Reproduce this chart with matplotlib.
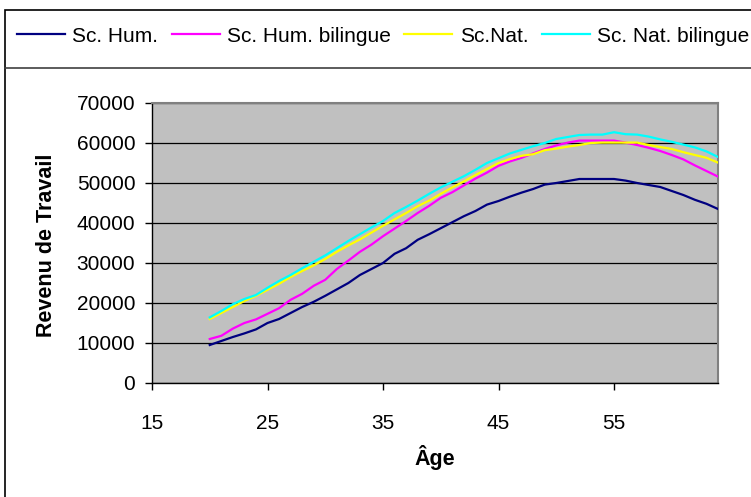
import matplotlib
matplotlib.use("Agg")
import matplotlib.pyplot as plt
from matplotlib.patches import Rectangle
from matplotlib.lines import Line2D

plt.rcParams['font.family'] = ['Liberation Sans', 'DejaVu Sans']

ages = list(range(20, 65))

sc_hum = [9500, 10500, 11500, 12400, 13400, 15000, 16000, 17500, 19000, 20300,
          21800, 23400, 25000, 27000, 28500, 30000, 32300, 33700, 35800, 37200,
          38700, 40200, 41700, 43000, 44600, 45500, 46600, 47600, 48500, 49600,
          50000, 50500, 51000, 51000, 51000, 51000, 50600, 50000, 49500, 49000,
          48000, 47000, 45800, 44800, 43500]

sc_hum_bil = [11000, 11800, 13600, 15000, 15900, 17300, 18700, 20800, 22300, 24300,
              25800, 28500, 30600, 32800, 34600, 36700, 38600, 40500, 42500, 44300,
              46300, 47700, 49400, 51100, 52600, 54300, 55400, 56300, 57400, 58500,
              59400, 60100, 60600, 60600, 60600, 60600, 60100, 59500, 58800, 58000,
              57000, 55900, 54400, 53000, 51600]

sc_nat = [16000, 17500, 19000, 20500, 21800, 23300, 24800, 26500, 28000, 29400,
          31000, 32800, 34400, 35900, 37600, 39300, 40900, 42500, 44200, 45600,
          47300, 48900, 50400, 52000, 53500, 55000, 56000, 56800, 57200, 58200,
          58600, 59100, 59500, 60000, 60100, 60100, 60100, 60100, 59500, 59000,
          58500, 57700, 57000, 56300, 55100]

sc_nat_bil = [16400, 18000, 19700, 21000, 22000, 23800, 25500, 27000, 28700, 30300,
              31900, 33700, 35500, 37200, 38900, 40500, 42500, 44000, 45600, 47300,
              48900, 50300, 51700, 53300, 55000, 56200, 57400, 58300, 59200, 60000,
              61000, 61500, 62000, 62100, 62100, 62700, 62200, 62100, 61600, 60900,
              60300, 59600, 58900, 57900, 56500]

labels = ['Sc. Hum.', 'Sc. Hum. bilingue', 'Sc.Nat.', 'Sc. Nat. bilingue']
colors = ['#000080', '#FF00FF', '#FFFF00', '#00FFFF']
x_ticks = [15, 25, 35, 45, 55]
y_ticks = list(range(0, 70001, 10000))

W, H = 751, 497
fig = plt.figure(figsize=(W / 100, H / 100), dpi=100)
fig.patch.set_facecolor('white')
ax = fig.add_axes([152 / W, 1 - 383 / H, (718 - 152) / W, (383 - 103) / H])
ax.set_facecolor('#C0C0C0')

for series, lab, col in zip([sc_hum, sc_hum_bil, sc_nat, sc_nat_bil], labels, colors):
    ax.plot(ages, series, color=col, lw=1.6, label=lab, zorder=3)

ax.set_xlim(15, 64)
ax.set_ylim(0, 70000)
ax.set_xticks(x_ticks)
ax.set_yticks(y_ticks)
ax.yaxis.grid(True, color='black', lw=0.9)
ax.set_axisbelow(True)
ax.tick_params(axis='both', labelsize=15, length=5, width=1, color='black', direction='out')
ax.tick_params(axis='x', pad=17)
ax.tick_params(axis='y', pad=7)
for s in ['left', 'bottom']:
    ax.spines[s].set_color('black')
    ax.spines[s].set_linewidth(1)
for s in ['top', 'right']:
    ax.spines[s].set_color('#808080')
    ax.spines[s].set_linewidth(1.5)

fig.text(47 / W, 1 - 245 / H, 'Revenu de Travail', rotation=90, fontsize=15.5,
         fontweight='bold', ha='center', va='center')
fig.text(435 / W, 1 - 457 / H, 'Âge', fontsize=15.5, fontweight='bold',
         ha='center', va='center')

# outer chart border and legend box
fig.add_artist(Rectangle((5 / W, -0.1), 1.1, 1 - 10 / H + 0.1, transform=fig.transFigure,
                         fill=False, edgecolor='black', lw=1.2))
fig.add_artist(Line2D([5 / W, 1.0], [1 - 68 / H, 1 - 68 / H], transform=fig.transFigure,
                      color='#404040', lw=1.2))

leg = ax.legend(loc='center left', bbox_to_anchor=(17 / W, 1 - 36 / H),
                bbox_transform=fig.transFigure, ncol=4, frameon=False,
                fontsize=15, handlelength=2.3, handletextpad=0.35,
                columnspacing=0.65, borderpad=0, borderaxespad=0)

fig.savefig('out.png', dpi=100)
